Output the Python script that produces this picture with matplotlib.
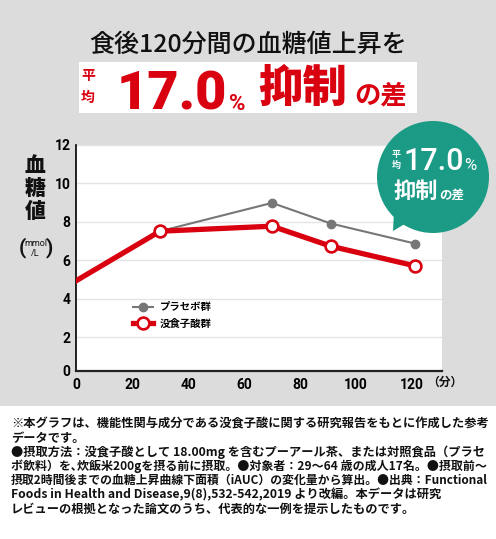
import matplotlib.pyplot as plt
from matplotlib.patches import Circle, Polygon, Rectangle

# data (minutes after meal, blood glucose mmol/L)
minutes = [0, 30, 70, 91, 121]
placebo = [4.94, 7.52, 8.99, 7.92, 6.88]
gallic = [4.94, 7.52, 7.78, 6.74, 5.72]
series_names = ['プラセボ群', '没食子酸群']
xticks = [0, 20, 40, 60, 80, 100, 120]
yticks = [2, 4, 6, 8, 10, 12]

notes = [
    '※本グラフは、機能性関与成分である没食子酸に関する研究報告をもとに作成した参考',
    'データです。',
    '●摂取方法：没食子酸として 18.00mg を含むプーアール茶、または対照食品（プラセ',
    'ボ飲料）を､炊飯米200gを摂る前に摂取。●対象者：29～64 歳の成人17名。●摂取前～',
    '摂取2時間後までの血糖上昇曲線下面積（iAUC）の変化量から算出。●出典：Functional',
    'Foods in Health and Disease,9(8),532-542,2019 より改編。本データは研究',
    'レビューの根拠となった論文のうち、代表的な一例を提示したものです。',
]

RED = '#d9000f'
GRAY = '#777777'
TEAL = '#1b9b86'
JP = ['Noto Sans CJK JP', 'DejaVu Sans']
NUM = ['Roboto', 'Noto Sans CJK JP', 'DejaVu Sans']
NARROW = ['Liberation Sans Narrow', 'Roboto', 'DejaVu Sans']

W, H = 496, 539
fig = plt.figure(figsize=(W / 100, H / 100), dpi=100, facecolor='#dcdcdc')


def px(x, y):
    return x / W, 1 - y / H


def ftext(x, y, s, **kw):
    return fig.text(*px(x, y), s, **kw)


# white band at the bottom
fig.patches.append(Rectangle((0, 0), 1, 1 - 405.5 / H, transform=fig.transFigure,
                             facecolor='white', edgecolor='none', zorder=0))

# title
ftext(248, 45, '食後120分間の血糖値上昇を', ha='center', va='center',
      fontsize=18, family=JP, weight='medium', color='#111111')
fig.patches.append(Rectangle(px(79, 113), 338 / W, 51 / H, transform=fig.transFigure,
                             facecolor='white', edgecolor='none', zorder=1))
ftext(88, 76, '平', ha='center', va='center', fontsize=10, family=JP, weight='bold', color=RED)
ftext(88, 98, '均', ha='center', va='center', fontsize=10, family=JP, weight='bold', color=RED)
ftext(117, 110, '17.0', ha='left', va='baseline', fontsize=39, family=NUM,
      weight='black', color=RED)
ftext(229, 110, '%', ha='left', va='baseline', fontsize=16, family=NUM, weight='bold', color=RED)
ftext(258, 88, '抑制', ha='left', va='center', fontsize=32, family=JP, weight='black', color=RED)
ftext(354, 96, 'の差', ha='left', va='center', fontsize=19, family=JP, weight='bold', color=RED)

# chart
ax = fig.add_axes([76 / W, 1 - 370.7 / H, 365.7 / W, 225.7 / H])
ax.set_facecolor('white')
ax.plot(minutes, placebo, color=GRAY, lw=1.5, marker='o', ms=6, markevery=slice(1, None),
        mfc=GRAY, mec=GRAY, label=series_names[0], zorder=3)
ax.plot(minutes, gallic, color=RED, lw=3.8, marker='o', ms=8.5, mew=1.9,
        markevery=slice(1, None), mfc='white', mec=RED, label=series_names[1], zorder=4)
ax.set_xlim(0, 130.6)
ax.set_ylim(0.27, 12)
ax.set_xticks(xticks)
ax.set_xticklabels([str(t) for t in xticks], fontsize=10, family=NARROW, weight='bold')
ax.set_yticks([0.27] + yticks)
ax.set_yticklabels(['0'] + [str(t) for t in yticks], fontsize=10, family=NARROW, weight='bold')
ax.tick_params(length=0, pad=5)
ax.tick_params(axis='y', pad=4)
ax.grid(axis='y', color='#e4e4e4', lw=1)
ax.set_axisbelow(True)
for s in ['top', 'right']:
    ax.spines[s].set_visible(False)
ax.spines['left'].set_linewidth(1.2)
ax.spines['bottom'].set_linewidth(1.6)
ax.spines['bottom'].set_color('#222222')
ax.legend(loc='center left', bbox_to_anchor=(0.13, 0.245), frameon=False,
          handlelength=1.9, handletextpad=0.7, labelspacing=0.6,
          prop={'family': JP, 'weight': 'bold', 'size': 7.5})

# y label
for ch, yy in zip('血糖値', [166, 189, 212]):
    ftext(35, yy, ch, ha='center', va='center', fontsize=15, family=JP,
          weight='black', color='#111111')
ftext(22, 248, '(', ha='center', va='center', fontsize=15, family=NUM, weight='bold',
      color='#111111')
ftext(49, 248, ')', ha='center', va='center', fontsize=15, family=NUM, weight='bold',
      color='#111111')
ftext(35.5, 243, 'mmol', ha='center', va='center', fontsize=6.5, family=NARROW,
      color='#111111')
ftext(35, 254, '/L', ha='center', va='center', fontsize=6.5, family=NARROW, color='#111111')
ftext(445, 382, '（分）', ha='center', va='center', fontsize=8.5, family=JP,
      weight='bold', color='#111111')

# speech bubble
cx, cy, r = 433, 177, 56
fig.patches.append(Circle((cx, H - cy), r, transform=None, facecolor=TEAL,
                          edgecolor='none', zorder=5))
fig.patches.append(Polygon([(394, H - 212), (408, H - 222), (393, H - 231)], closed=True,
                           transform=None, facecolor=TEAL, edgecolor='none', zorder=5))
ftext(396, 155, '平', ha='center', va='center', fontsize=6.5, family=JP, weight='bold',
      color='white', zorder=6)
ftext(396, 165, '均', ha='center', va='center', fontsize=6.5, family=JP, weight='bold',
      color='white', zorder=6)
ftext(403, 170, '17.0', ha='left', va='baseline', fontsize=22, family=NUM,
      weight='medium', color='white', zorder=6)
ftext(464, 170, '%', ha='left', va='baseline', fontsize=12, family=NUM,
      color='white', zorder=6)
ftext(394, 191, '抑制', ha='left', va='center', fontsize=16, family=JP, weight='bold',
      color='white', zorder=6)
ftext(439, 195, 'の差', ha='left', va='center', fontsize=9, family=JP, weight='bold',
      color='white', zorder=6)

# notes, shrunk where a line would run past the right margin
renderer = fig.canvas.get_renderer()
for i, line in enumerate(notes):
    t = ftext(11, 424 + i * 14.2, line, ha='left', va='center', fontsize=8.8, family=JP,
              weight='bold', color='#111111')
    w = t.get_window_extent(renderer).width
    if w > 477:
        t.set_fontsize(8.8 * 477 / w)

fig.savefig('out.png', dpi=100, facecolor=fig.get_facecolor())
